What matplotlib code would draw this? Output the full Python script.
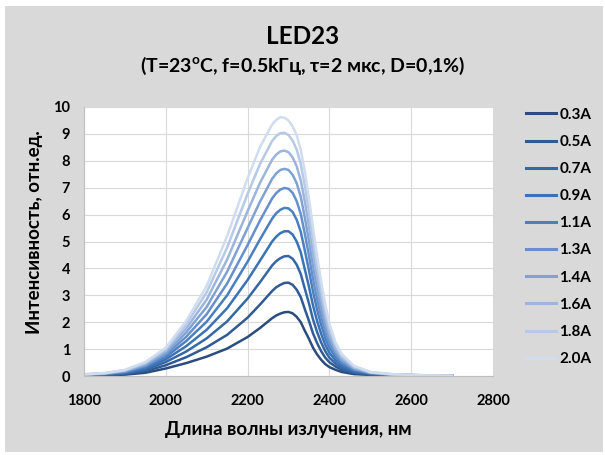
import numpy as np
import matplotlib
matplotlib.use("Agg")
import matplotlib.pyplot as plt
from matplotlib.patches import Rectangle

plt.rcParams["font.family"] = ["Lato", "DejaVu Sans"]
plt.rcParams["font.weight"] = "bold"
plt.rcParams["mathtext.fontset"] = "custom"
plt.rcParams["mathtext.rm"] = "Lato:bold"
plt.rcParams["mathtext.bf"] = "Lato:bold"

# длина волны, нм
wl = [1800, 1850, 1900, 1950, 2000, 2050, 2100, 2150, 2200, 2230, 2260, 2270, 2280,
      2290, 2300, 2310, 2320, 2330, 2340, 2350, 2360, 2370, 2380, 2390, 2400, 2415,
      2430, 2460, 2500, 2550, 2600, 2650, 2700]

labels = ["0.3A", "0.5A", "0.7A", "0.9A", "1.1A", "1.3A", "1.4A", "1.6A", "1.8A", "2.0A"]

i_03 = [0.02, 0.03, 0.05, 0.12, 0.28, 0.48, 0.72, 1.02, 1.45, 1.78, 2.15, 2.25, 2.32,
        2.37, 2.38, 2.33, 2.20, 2.00, 1.68, 1.38, 1.05, 0.80, 0.60, 0.44, 0.33, 0.23,
        0.15, 0.07, 0.04, 0.02, 0.01, 0.01, 0.01]
i_05 = [0.03, 0.04, 0.07, 0.18, 0.40, 0.70, 1.07, 1.53, 2.17, 2.65, 3.16, 3.30, 3.39,
        3.46, 3.47, 3.39, 3.21, 2.93, 2.48, 2.05, 1.58, 1.22, 0.92, 0.68, 0.51, 0.35,
        0.23, 0.11, 0.06, 0.03, 0.01, 0.01, 0.01]
i_07 = [0.04, 0.05, 0.10, 0.23, 0.52, 0.91, 1.40, 2.03, 2.88, 3.48, 4.11, 4.27, 4.38,
        4.45, 4.46, 4.36, 4.14, 3.79, 3.24, 2.70, 2.10, 1.63, 1.24, 0.92, 0.68, 0.46,
        0.30, 0.14, 0.07, 0.04, 0.02, 0.02, 0.02]
i_09 = [0.04, 0.07, 0.12, 0.28, 0.62, 1.11, 1.72, 2.52, 3.57, 4.28, 5.00, 5.18, 5.31,
        5.38, 5.38, 5.26, 5.00, 4.60, 3.96, 3.32, 2.62, 2.04, 1.56, 1.16, 0.86, 0.58,
        0.38, 0.18, 0.09, 0.04, 0.02, 0.02, 0.02]
i_11 = [0.05, 0.08, 0.14, 0.33, 0.71, 1.30, 2.02, 3.00, 4.25, 5.07, 5.85, 6.05, 6.18,
        6.25, 6.23, 6.10, 5.81, 5.36, 4.66, 3.93, 3.13, 2.46, 1.89, 1.41, 1.05, 0.70,
        0.46, 0.21, 0.10, 0.05, 0.03, 0.02, 0.02]
i_13 = [0.05, 0.08, 0.16, 0.37, 0.79, 1.46, 2.30, 3.44, 4.87, 5.77, 6.60, 6.80, 6.93,
        6.99, 6.96, 6.81, 6.50, 6.02, 5.28, 4.48, 3.60, 2.85, 2.20, 1.65, 1.22, 0.81,
        0.53, 0.25, 0.11, 0.05, 0.03, 0.02, 0.02]
i_14 = [0.05, 0.09, 0.18, 0.41, 0.86, 1.62, 2.57, 3.88, 5.50, 6.47, 7.33, 7.53, 7.66,
        7.70, 7.66, 7.48, 7.17, 6.66, 5.88, 5.02, 4.08, 3.25, 2.52, 1.89, 1.40, 0.92,
        0.60, 0.28, 0.12, 0.06, 0.03, 0.02, 0.02]
i_16 = [0.06, 0.10, 0.20, 0.45, 0.93, 1.77, 2.84, 4.33, 6.13, 7.17, 8.04, 8.23, 8.35,
        8.38, 8.32, 8.13, 7.80, 7.27, 6.48, 5.57, 4.56, 3.65, 2.85, 2.15, 1.58, 1.03,
        0.67, 0.31, 0.13, 0.06, 0.04, 0.02, 0.01]
i_18 = [0.06, 0.10, 0.21, 0.49, 1.00, 1.92, 3.11, 4.78, 6.77, 7.87, 8.74, 8.92, 9.03,
        9.04, 8.96, 8.75, 8.42, 7.88, 7.07, 6.11, 5.05, 4.06, 3.18, 2.40, 1.77, 1.14,
        0.75, 0.35, 0.14, 0.07, 0.04, 0.02, 0.01]
i_20 = [0.06, 0.11, 0.23, 0.52, 1.05, 2.05, 3.35, 5.20, 7.35, 8.50, 9.35, 9.52, 9.62,
        9.60, 9.50, 9.28, 8.95, 8.40, 7.60, 6.60, 5.50, 4.45, 3.50, 2.65, 1.95, 1.25,
        0.82, 0.38, 0.15, 0.07, 0.04, 0.02, 0.01]

series = [i_03, i_05, i_07, i_09, i_11, i_13, i_14, i_16, i_18, i_20]
colors = ["#2b4c7e", "#305a92", "#3567a6", "#3a72b6", "#4a7fc0",
          "#6590cb", "#7fa2d3", "#9bb5dc", "#b6c9e6", "#d0dcf0"]

fig = plt.figure(figsize=(6.05, 4.55), dpi=100)
fig.patch.set_facecolor("white")
fig.patches.append(Rectangle((5 / 605, 3 / 455), 598 / 605, 446 / 455, transform=fig.transFigure,
                             facecolor="#d9d9d9", edgecolor="none", zorder=-10))

ax = fig.add_axes([84 / 605, 1 - 376 / 455, 409 / 605, 269 / 455])
ax.set_facecolor("white")
for y, lab, c in zip(series, labels, colors):
    ax.plot(wl, y, color=c, lw=1.8, label=lab, solid_joinstyle="round")

ax.set_xlim(1800, 2800)
ax.set_ylim(0, 10)
ax.set_xticks(np.arange(1800, 2801, 200))
ax.set_yticks(np.arange(0, 11, 1))
ax.tick_params(length=0, labelsize=10.5, colors="black")
ax.tick_params(axis="y", pad=10)
ax.tick_params(axis="x", pad=13)
ax.grid(color="#d9d9d9", lw=0.8)
ax.set_axisbelow(True)
for s in ["top", "right"]:
    ax.spines[s].set_visible(False)
for s in ["left", "bottom"]:
    ax.spines[s].set_color("#bfbfbf")
    ax.spines[s].set_linewidth(0.8)

ax.set_xlabel("Длина волны излучения, нм", fontsize=13.5, fontweight="bold", labelpad=9)
ax.set_ylabel("Интенсивность, отн.ед.", fontsize=13.5, fontweight="bold", va="center")
ax.yaxis.set_label_coords(-0.12, 0.535)

fig.text(0.5, 1 - 37 / 455, "LED23", ha="center", va="center", fontsize=17.5, fontweight="bold")
fig.text(0.5, 1 - 66 / 455, r"(T=23$^{\mathbf{o}}$C, f=0.5kГц, τ=2 мкс, D=0,1%)",
         ha="center", va="center", fontsize=14, fontweight="bold")

leg = ax.legend(loc="upper left", bbox_to_anchor=(512 / 605, 1 - 94 / 455), bbox_transform=fig.transFigure,
                frameon=False, fontsize=11, handlelength=2.0, handletextpad=0.2, labelspacing=0.86)
for line in leg.get_lines():
    line.set_linewidth(2.2)

fig.savefig("out.png", dpi=100, facecolor=fig.get_facecolor())
